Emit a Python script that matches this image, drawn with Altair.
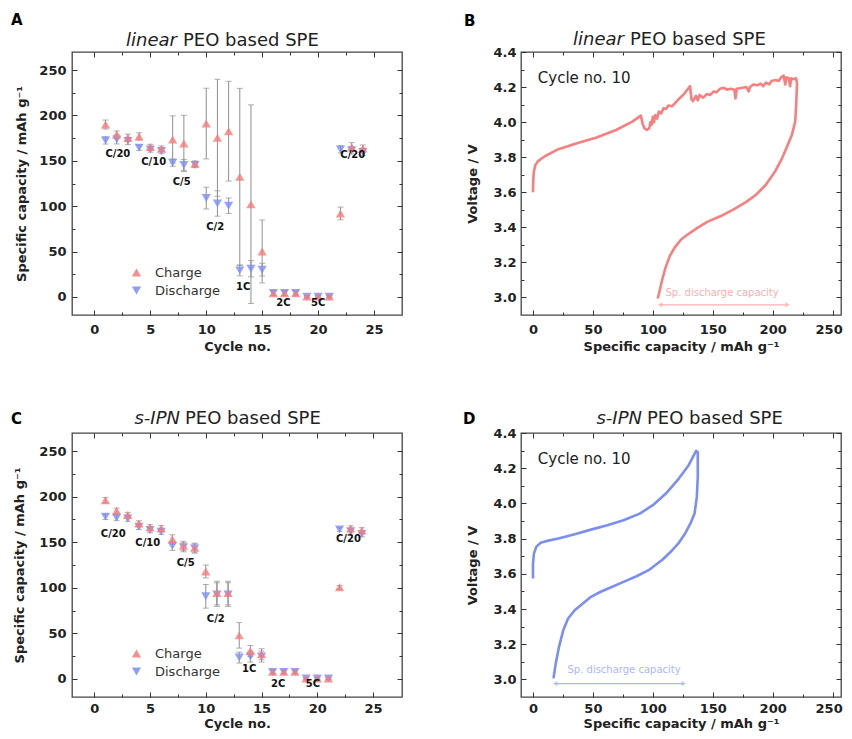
import altair as alt
import pandas as pd

FONT = "DejaVu Sans"
RED = "#f77b7b"
BLUE = "#7c8ef5"
GRAY = "#8f8f8f"
INK = "#222222"

# ---------------- data ----------------
cycles = list(range(1, 25))

a_charge = [190, 179, 175.4, 176.9, 165.2, 163.4, 173.6, 169.2, 146.9, 191.1, 175.4, 182.7,
            132.3, 102.2, 50.1, 4.0, 4.0, 4.0, 0.5, 0.3, 0.5, 92, 165, 163.5]
a_charge_err = [5, 4, 4, 4, 3, 3, 26, 31, 3, 39, 64.5, 55, 97.6, 109.5, 34.7, 2.5, 2.5, 2.5,
                1, 1, 1, 7, 5, 4]
a_dis = [172.5, 173.6, 171.8, 164.5, 162.6, 160.8, 148, 145.5, 145.5, 108.9, 103, 100.5,
         29.2, 31, 30, 4.4, 4.4, 4.4, 0, 0, 0, 162.6, 161.5, 159.8]
a_dis_err = [4, 5, 4, 3, 3, 3, 4, 6, 3, 12, 14, 8.5, 6, 9, 7, 2.5, 2.5, 2.5, 1, 1, 1, 4, 4, 4]

c_charge = [196, 184.5, 179.8, 170.6, 166.3, 165.2, 153.2, 146, 144, 117.9, 94.2, 94.2,
            47.7, 30.6, 27, 7.6, 7.6, 7.6, 0.3, 0.3, 0.3, 100.5, 165, 163]
c_charge_err = [3, 3, 3, 3, 3, 3, 5, 5, 5, 7, 13, 13, 14, 6, 6, 2, 2, 2, 1, 1, 1, 2, 3, 3]
c_dis = [178, 177, 176, 167, 163.4, 161.6, 146, 144.5, 143, 90.6, 92.5, 92.5,
         23.3, 24.4, 24.4, 7.6, 7.6, 7.6, 0.3, 0.3, 0.3, 164, 162, 159]
c_dis_err = [3, 3, 3, 3, 3, 3, 5, 5, 5, 13, 13, 13, 6, 6, 6, 2, 2, 2, 1, 1, 1, 2, 3, 3]

rate_text = ["C/20", "C/10", "C/5", "C/2", "1C", "2C", "5C", "C/20"]
a_rate_x = [2.1, 5.3, 7.8, 10.8, 13.3, 16.9, 20.0, 23.1]
a_rate_y = [158, 149, 127, 77, 11, -6.6, -6.6, 156]
c_rate_x = [1.7, 4.8, 8.2, 10.9, 13.9, 16.5, 19.6, 22.8]
c_rate_y = [159, 149.6, 127.7, 66, 10.6, -5.8, -5.8, 154]

# voltage profiles (cycle no. 10)
b_cap = [0, 0.3, 0.8, 2, 4, 9.5, 20, 36.7, 53, 69.3, 82.9, 90, 91.5, 93, 95, 97, 98, 99, 100,
         101, 102, 103.5, 105, 107, 109, 111, 113, 116, 120.9, 126, 131, 132.3, 133.5, 136,
         137.5, 139, 142, 145, 148, 150.8, 153, 156, 159, 162, 165, 168, 169, 170, 174, 178,
         180, 181, 184, 187, 190, 192, 194.3, 197, 199, 202.4, 205, 207, 209.2, 210.5, 211.5,
         213.5, 214.5, 215.5, 217, 219.5, 220.3, 219.6,
         218.8, 216.0, 212.0, 207.9, 202.4, 194.3, 186.1, 178.0, 167.1, 156.3, 145.4, 137.2,
         129.1, 123.6, 118.2, 114.1, 110.6, 107.9, 106.0, 104.1]
b_volt = [3.60, 3.68, 3.72, 3.755, 3.776, 3.804, 3.842, 3.88, 3.912, 3.955, 4.003, 4.037,
          3.99, 3.965, 3.955, 3.965, 4.00, 3.985, 4.03, 4.00, 4.04, 4.02, 4.06, 4.05, 4.08,
          4.075, 4.095, 4.09, 4.126, 4.16, 4.205, 4.13, 4.12, 4.15, 4.125, 4.155, 4.14, 4.16,
          4.155, 4.175, 4.17, 4.19, 4.196, 4.185, 4.19, 4.185, 4.135, 4.19, 4.195, 4.2, 4.175,
          4.2, 4.215, 4.21, 4.22, 4.205, 4.225, 4.215, 4.235, 4.24, 4.235, 4.255, 4.265, 4.215,
          4.255, 4.25, 4.205, 4.25, 4.245, 4.25, 4.22, 4.10,
          4.003, 3.927, 3.861, 3.795, 3.723, 3.643, 3.586, 3.545, 3.501, 3.463, 3.431, 3.397,
          3.359, 3.331, 3.284, 3.236, 3.170, 3.104, 3.047, 2.994]

d_cap = [0, 0, 0.8, 2.7, 6.3, 11.7, 21.2, 34.8, 48.4, 62, 75.5, 89.1, 100, 110.9, 121.7,
         129.9, 136.1,
         137.5, 137.5, 136.7, 134.8, 131.3, 127.2, 121.7, 114.9, 108.2, 97.3, 86.4, 75.5,
         64.7, 56.5, 48.4, 41.6, 34.8, 29.3, 25.3, 21.7, 19.0, 17.1]
d_volt = [3.573, 3.658, 3.715, 3.753, 3.776, 3.787, 3.801, 3.825, 3.851, 3.876, 3.904,
          3.942, 3.990, 4.056, 4.141, 4.217, 4.298,
          4.292, 4.150, 4.037, 3.942, 3.885, 3.832, 3.776, 3.725, 3.681, 3.624, 3.586, 3.554,
          3.522, 3.498, 3.469, 3.431, 3.393, 3.346, 3.280, 3.185, 3.091, 3.006]

b_arrow_x = [106, 212.5]
b_arrow_y = 2.958
b_note = (157.8, 3.028)
d_arrow_x = [18.5, 125.8]
d_arrow_y = 2.976
d_note = (76, 3.055)
cycle_note_b = (4, 4.25)
cycle_note_d = (4, 4.254)


# ---------------- helpers ----------------
def vals(start, stop, step):
    n = int(round((stop - start) / step))
    return [round(start + i * step, 6) for i in range(n + 1)]


def major(step):
    return f"abs(datum.value/{step} - round(datum.value/{step})) < 1e-6"


def axis(orient, values, step, labels=True, fmt=None, label_pad=6, title_pad=8,
         last_shift=None):
    kw = dict(orient=orient, values=values, domain=False, offset=-5, tickSize=5,
              tickWidth=1, tickColor="#333",
              tickDash={"condition": {"test": f"!({major(step)})", "value": [0, 2, 3, 40]},
                        "value": [10, 0]},
              grid=False, labels=labels, labelPadding=label_pad, titlePadding=title_pad,
              labelFlush=False, labelOverlap=False)
    if labels:
        kw["labelExpr"] = f"{major(step)} ? datum.label : ''"
    if fmt:
        kw["format"] = fmt
    if last_shift is not None:
        kw["labelOffset"] = {"condition": {"test": f"datum.value >= {last_shift[0]}",
                                           "value": last_shift[1]}, "value": 0}
    return alt.Axis(**kw)


def text_at(txt, x, y, **kw):
    return alt.Chart(pd.DataFrame({"t": [txt]})).mark_text(**kw).encode(
        x=alt.value(x), y=alt.value(y), text="t:N")


def header(letter, italic, rest, letter_xy, it_right, rest_left, base_y):
    return [
        text_at(letter, letter_xy[0], letter_xy[1], font=FONT, fontSize=15, fontWeight="bold",
                align="left", baseline="alphabetic", color="#000"),
        text_at(italic, it_right, base_y, font=FONT, fontSize=18, fontStyle="italic",
                align="right", baseline="alphabetic", color=INK),
        text_at(rest, rest_left, base_y, font=FONT, fontSize=18, align="left",
                baseline="alphabetic", color=INK),
    ]


def legend():
    return alt.Legend(orient="none", legendX=58, legendY=214, title=None,
                      labelFont=FONT, labelFontSize=13, labelFontWeight="normal",
                      labelColor="#333", symbolSize=85, rowPadding=4, labelOffset=12,
                      padding=0, symbolStrokeWidth=0, symbolOpacity=0.85)


def rate_panel(charge, charge_err, dis, dis_err, rx, ry, hdr, width, height, xdom,
               ytitle_pad, xlab_pad, xtitle_pad):
    rows = []
    for c, v, e in zip(cycles, dis, dis_err):
        rows.append({"cycle": c, "value": v, "lo": v - e, "hi": v + e, "series": "Discharge"})
    for c, v, e in zip(cycles, charge, charge_err):
        rows.append({"cycle": c, "value": v, "lo": v - e, "hi": v + e, "series": "Charge"})
    df = pd.DataFrame(rows)
    xs = alt.Scale(domain=xdom, nice=False, zero=False)
    ys = alt.Scale(domain=[-20, 270], nice=False, zero=False)
    xv = vals(0, 25, 2.5)
    yv = vals(0, 250, 25)
    base = alt.Chart(df)
    bars = base.mark_rule(color=GRAY, strokeWidth=1).encode(
        x=alt.X("cycle:Q", scale=xs, axis=axis("top", xv, 5, labels=False), title=None),
        y=alt.Y("lo:Q", scale=ys, axis=axis("right", yv, 50, labels=False), title=None),
        y2="hi:Q")
    cap_lo = base.mark_tick(orient="horizontal", size=6, thickness=1, color=GRAY).encode(
        x=alt.X("cycle:Q", scale=xs, axis=None), y=alt.Y("lo:Q", scale=ys, axis=None))
    cap_hi = base.mark_tick(orient="horizontal", size=6, thickness=1, color=GRAY).encode(
        x=alt.X("cycle:Q", scale=xs, axis=None), y=alt.Y("hi:Q", scale=ys, axis=None))
    pts = base.mark_point(filled=True, size=85, opacity=0.8, strokeWidth=0).encode(
        x=alt.X("cycle:Q", scale=xs,
                axis=axis("bottom", xv, 5, label_pad=xlab_pad, title_pad=xtitle_pad),
                title="Cycle no."),
        y=alt.Y("value:Q", scale=ys,
                axis=axis("left", yv, 50, label_pad=6, title_pad=ytitle_pad),
                title="Specific capacity / mAh g⁻¹"),
        color=alt.Color("series:N", scale=alt.Scale(domain=["Charge", "Discharge"],
                                                    range=[RED, BLUE]), legend=legend()),
        shape=alt.Shape("series:N", scale=alt.Scale(domain=["Charge", "Discharge"],
                                                    range=["triangle-up", "triangle-down"]),
                        legend=legend()),
        order=alt.Order("series:N", sort="descending"))
    lab = alt.Chart(pd.DataFrame({"t": rate_text, "x": rx, "y": ry})).mark_text(
        font=FONT, fontSize=10, fontWeight="bold", color="#111", baseline="middle").encode(
        x=alt.X("x:Q", scale=xs, axis=None), y=alt.Y("y:Q", scale=ys, axis=None), text="t:N")
    return alt.layer(bars, cap_lo, cap_hi, pts, lab, *hdr).resolve_axis(
        x="independent", y="independent").properties(width=width, height=height)


def volt_panel(cap, volt, color, light, arrow_x, arrow_y, note, cnote, hdr, width, height,
               xlab_pad, xtitle_pad):
    xs = alt.Scale(domain=[-10, 257], nice=False, zero=False)
    ys = alt.Scale(domain=[2.9, 4.4], nice=False, zero=False)
    xv = vals(0, 250, 25)
    yv = vals(3.0, 4.4, 0.1)
    df = pd.DataFrame({"cap": cap, "volt": volt, "i": list(range(len(cap)))})
    line = alt.Chart(df).mark_line(color=color, strokeWidth=2.6, strokeJoin="round").encode(
        x=alt.X("cap:Q", scale=xs,
                axis=axis("bottom", xv, 50, label_pad=xlab_pad, title_pad=xtitle_pad,
                          last_shift=(249, -4)),
                title="Specific capacity / mAh g⁻¹"),
        y=alt.Y("volt:Q", scale=ys,
                axis=axis("left", yv, 0.2, fmt=".1f", label_pad=5, title_pad=13),
                title="Voltage / V"),
        order="i:Q")
    adf = pd.DataFrame({"x": [arrow_x[0]], "x2": [arrow_x[1]], "y": [arrow_y]})
    arrow = alt.Chart(adf).mark_rule(color=light, strokeWidth=1.2).encode(
        x=alt.X("x:Q", scale=xs, axis=axis("top", xv, 50, labels=False), title=None),
        x2="x2:Q",
        y=alt.Y("y:Q", scale=ys, axis=axis("right", yv, 0.2, labels=False), title=None))
    hdf = pd.DataFrame({"x": arrow_x, "y": [arrow_y, arrow_y], "d": ["l", "r"]})
    heads = alt.Chart(hdf).mark_point(filled=True, size=30, color=light, strokeWidth=0).encode(
        x=alt.X("x:Q", scale=xs, axis=None), y=alt.Y("y:Q", scale=ys, axis=None),
        shape=alt.Shape("d:N", scale=alt.Scale(domain=["l", "r"],
                                               range=["triangle-left", "triangle-right"]),
                        legend=None))
    ndf = pd.DataFrame({"x": [note[0]], "y": [note[1]], "t": ["Sp. discharge capacity"]})
    ntext = alt.Chart(ndf).mark_text(font=FONT, fontSize=10, color=light,
                                     baseline="middle").encode(
        x=alt.X("x:Q", scale=xs, axis=None), y=alt.Y("y:Q", scale=ys, axis=None), text="t:N")
    cdf = pd.DataFrame({"x": [cnote[0]], "y": [cnote[1]], "t": ["Cycle no. 10"]})
    ctext = alt.Chart(cdf).mark_text(font=FONT, fontSize=15, color=INK, align="left",
                                     baseline="middle").encode(
        x=alt.X("x:Q", scale=xs, axis=None), y=alt.Y("y:Q", scale=ys, axis=None), text="t:N")
    return alt.layer(arrow, line, heads, ntext, ctext, *hdr).resolve_axis(
        x="independent", y="independent").properties(width=width, height=height)


A = rate_panel(a_charge, a_charge_err, a_dis, a_dis_err, a_rate_x, a_rate_y,
               header("A", "linear", "PEO based SPE", (-61, -27), 105, 111, -6),
               330, 263, [-2, 27.5], 10, 8, 4)
B = volt_panel(b_cap, b_volt, "#f77f7f", "#f8b0b0", b_arrow_x, b_arrow_y, b_note,
               cycle_note_b,
               header("B", "linear", "PEO based SPE", (-57, -26), 103, 109, -7),
               320, 263, 8, 4)
C = rate_panel(c_charge, c_charge_err, c_dis, c_dis_err, c_rate_x, c_rate_y,
               header("C", "s-IPN", "PEO based SPE", (-61, -9), 108, 113, -9),
               330, 264, [-2, 27.6], 12, 5, 2)
D = volt_panel(d_cap, d_volt, "#7b8ef2", "#adb7f6", d_arrow_x, d_arrow_y, d_note,
               cycle_note_d,
               header("D", "s-IPN", "PEO based SPE", (-58, -9), 121, 126, -9),
               320, 264, 5, 2)

chart = alt.concat(A, B, C, D, columns=2, spacing={"row": 118, "column": 119},
                   bounds="flush").resolve_scale(
    color="independent", shape="independent").properties(
    padding={"left": 2, "top": 4, "right": 0, "bottom": 0},
    background="white").configure_view(stroke="#444", strokeWidth=1.3).configure_axis(
    labelFont=FONT, labelFontWeight="bold", labelFontSize=13, labelColor=INK,
    titleFont=FONT, titleFontWeight="bold", titleFontSize=13, titleColor=INK)

chart.save("out.html", embed_options={"renderer": "svg", "actions": False})
